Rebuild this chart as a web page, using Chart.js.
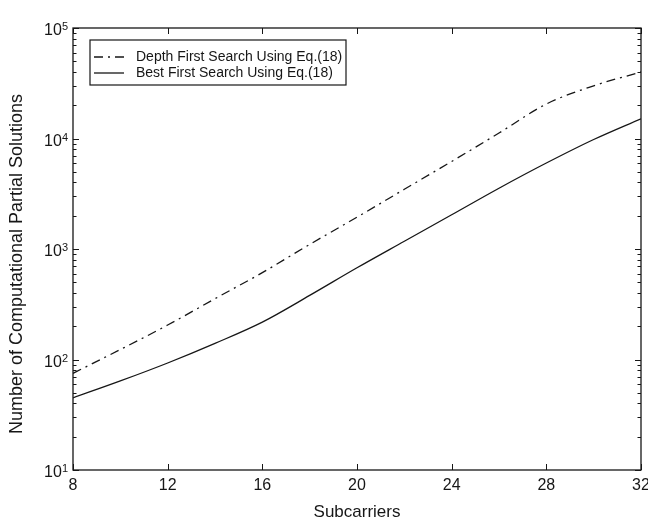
<!DOCTYPE html>
<html>
<head>
<meta charset="utf-8">
<script src="https://cdn.jsdelivr.net/npm/chart.js@4/dist/chart.umd.min.js"></script>
<style>
  html, body { margin: 0; padding: 0; background: #fff; overflow: hidden; }
  #wrap { width: 648px; height: 526px; position: relative; }
</style>
</head>
<body>
<div id="wrap"><canvas id="c" width="648" height="526"></canvas></div>
<script>
// Number of subcarriers (x axis)
const subcarriers = [8, 10, 12, 14, 16, 18, 20, 22, 24, 26, 28, 30, 32];
// Partial solutions computed by each search strategy
const depthFirst = [75, 123, 205, 355, 611, 1100, 1940, 3470, 6200, 11200, 20500, 30000, 40000];
const bestFirst  = [45, 64, 93, 140, 218, 380, 676, 1175, 2040, 3550, 6000, 9800, 15100];
// Axis ticks
const xTicks = [8, 12, 16, 20, 24, 28, 32];
const yExponents = [1, 2, 3, 4, 5];
const seriesLabels = ['Depth First Search Using Eq.(18)', 'Best First Search Using Eq.(18)'];
const xTitle = 'Subcarriers';
const yTitle = 'Number of Computational Partial Solutions';

const FONT = '"Liberation Sans", Arial, Helvetica, sans-serif';
const INK = '#161616';
const DASHDOT = [9, 5, 2, 5];

// Frame, inward ticks, tick labels, titles and legend in MATLAB style
const matlabAxes = {
  id: 'matlabAxes',
  afterDraw(chart) {
    const { ctx, chartArea: a, scales: { x, y } } = chart;
    ctx.save();
    ctx.strokeStyle = INK;
    ctx.fillStyle = INK;
    ctx.lineWidth = 1.3;
    ctx.setLineDash([]);
    ctx.strokeRect(a.left, a.top, a.right - a.left, a.bottom - a.top);

    // x ticks (bottom and top, pointing inward)
    ctx.lineWidth = 1;
    ctx.beginPath();
    xTicks.forEach(v => {
      const px = Math.round(x.getPixelForValue(v)) + 0.5;
      ctx.moveTo(px, a.bottom); ctx.lineTo(px, a.bottom - 6);
      ctx.moveTo(px, a.top); ctx.lineTo(px, a.top + 6);
    });
    // y major and minor ticks (left and right)
    yExponents.forEach(e => {
      for (let m = 1; m <= 9; m++) {
        if (e === 5 && m > 1) break;
        const v = m * Math.pow(10, e);
        const py = Math.round(y.getPixelForValue(v)) + 0.5;
        const len = m === 1 ? 6 : 3.5;
        ctx.moveTo(a.left, py); ctx.lineTo(a.left + len, py);
        ctx.moveTo(a.right, py); ctx.lineTo(a.right - len, py);
      }
    });
    ctx.stroke();

    // x tick labels
    ctx.font = '16px ' + FONT;
    ctx.textAlign = 'center';
    ctx.textBaseline = 'middle';
    xTicks.forEach(v => ctx.fillText(String(v), x.getPixelForValue(v), a.bottom + 16));

    // y tick labels: 10 with raised exponent
    yExponents.forEach(e => {
      const py = y.getPixelForValue(Math.pow(10, e));
      ctx.font = '11px ' + FONT;
      const ew = ctx.measureText(String(e)).width;
      ctx.textAlign = 'left';
      ctx.textBaseline = 'alphabetic';
      const expX = a.left - 5 - ew;
      ctx.fillText(String(e), expX, py + 2);
      ctx.font = '16px ' + FONT;
      ctx.textAlign = 'right';
      ctx.textBaseline = 'middle';
      ctx.fillText('10', expX, py + 3);
    });

    // axis titles
    ctx.font = '17px ' + FONT;
    ctx.textAlign = 'center';
    ctx.textBaseline = 'middle';
    ctx.fillText(xTitle, (a.left + a.right) / 2, a.bottom + 42);
    ctx.save();
    ctx.translate(17, 264);
    ctx.rotate(-Math.PI / 2);
    ctx.font = '18px ' + FONT;
    ctx.fillText(yTitle, 0, 0);
    ctx.restore();

    // legend box
    const lx = a.left + 17, ly = a.top + 12, lw = 256, lh = 45;
    ctx.fillStyle = '#fff';
    ctx.fillRect(lx, ly, lw, lh);
    ctx.lineWidth = 1.2;
    ctx.strokeStyle = INK;
    ctx.strokeRect(lx, ly, lw, lh);
    ctx.font = '14px ' + FONT;
    ctx.textAlign = 'left';
    ctx.textBaseline = 'middle';
    ctx.fillStyle = INK;
    chart.data.datasets.forEach((ds, i) => {
      const ry = ly + 17 + i * 16;
      ctx.beginPath();
      ctx.setLineDash(ds.borderDash || []);
      ctx.lineWidth = 1.3;
      ctx.moveTo(lx + 4, ry); ctx.lineTo(lx + 34, ry);
      ctx.stroke();
      ctx.setLineDash([]);
      ctx.fillText(ds.label, lx + 46, ry);
    });
    ctx.restore();
  }
};

new Chart(document.getElementById('c'), {
  type: 'line',
  data: {
    datasets: [
      {
        label: seriesLabels[0],
        data: subcarriers.map((s, i) => ({ x: s, y: depthFirst[i] })),
        borderColor: INK, borderWidth: 1.3, borderDash: DASHDOT,
        pointRadius: 0, cubicInterpolationMode: 'monotone', fill: false
      },
      {
        label: seriesLabels[1],
        data: subcarriers.map((s, i) => ({ x: s, y: bestFirst[i] })),
        borderColor: INK, borderWidth: 1.3,
        pointRadius: 0, cubicInterpolationMode: 'monotone', fill: false
      }
    ]
  },
  options: {
    responsive: false,
    animation: false,
    devicePixelRatio: 1,
    layout: { padding: { left: 65, right: 7, top: 28, bottom: 48 } },
    plugins: { legend: { display: false }, tooltip: { enabled: false } },
    scales: {
      x: {
        type: 'linear', min: 8, max: 32,
        ticks: { display: false }, grid: { display: false }, border: { display: false }
      },
      y: {
        type: 'logarithmic', min: 10, max: 100000,
        ticks: { display: false }, grid: { display: false }, border: { display: false }
      }
    }
  },
  plugins: [matlabAxes]
});
</script>
</body>
</html>
